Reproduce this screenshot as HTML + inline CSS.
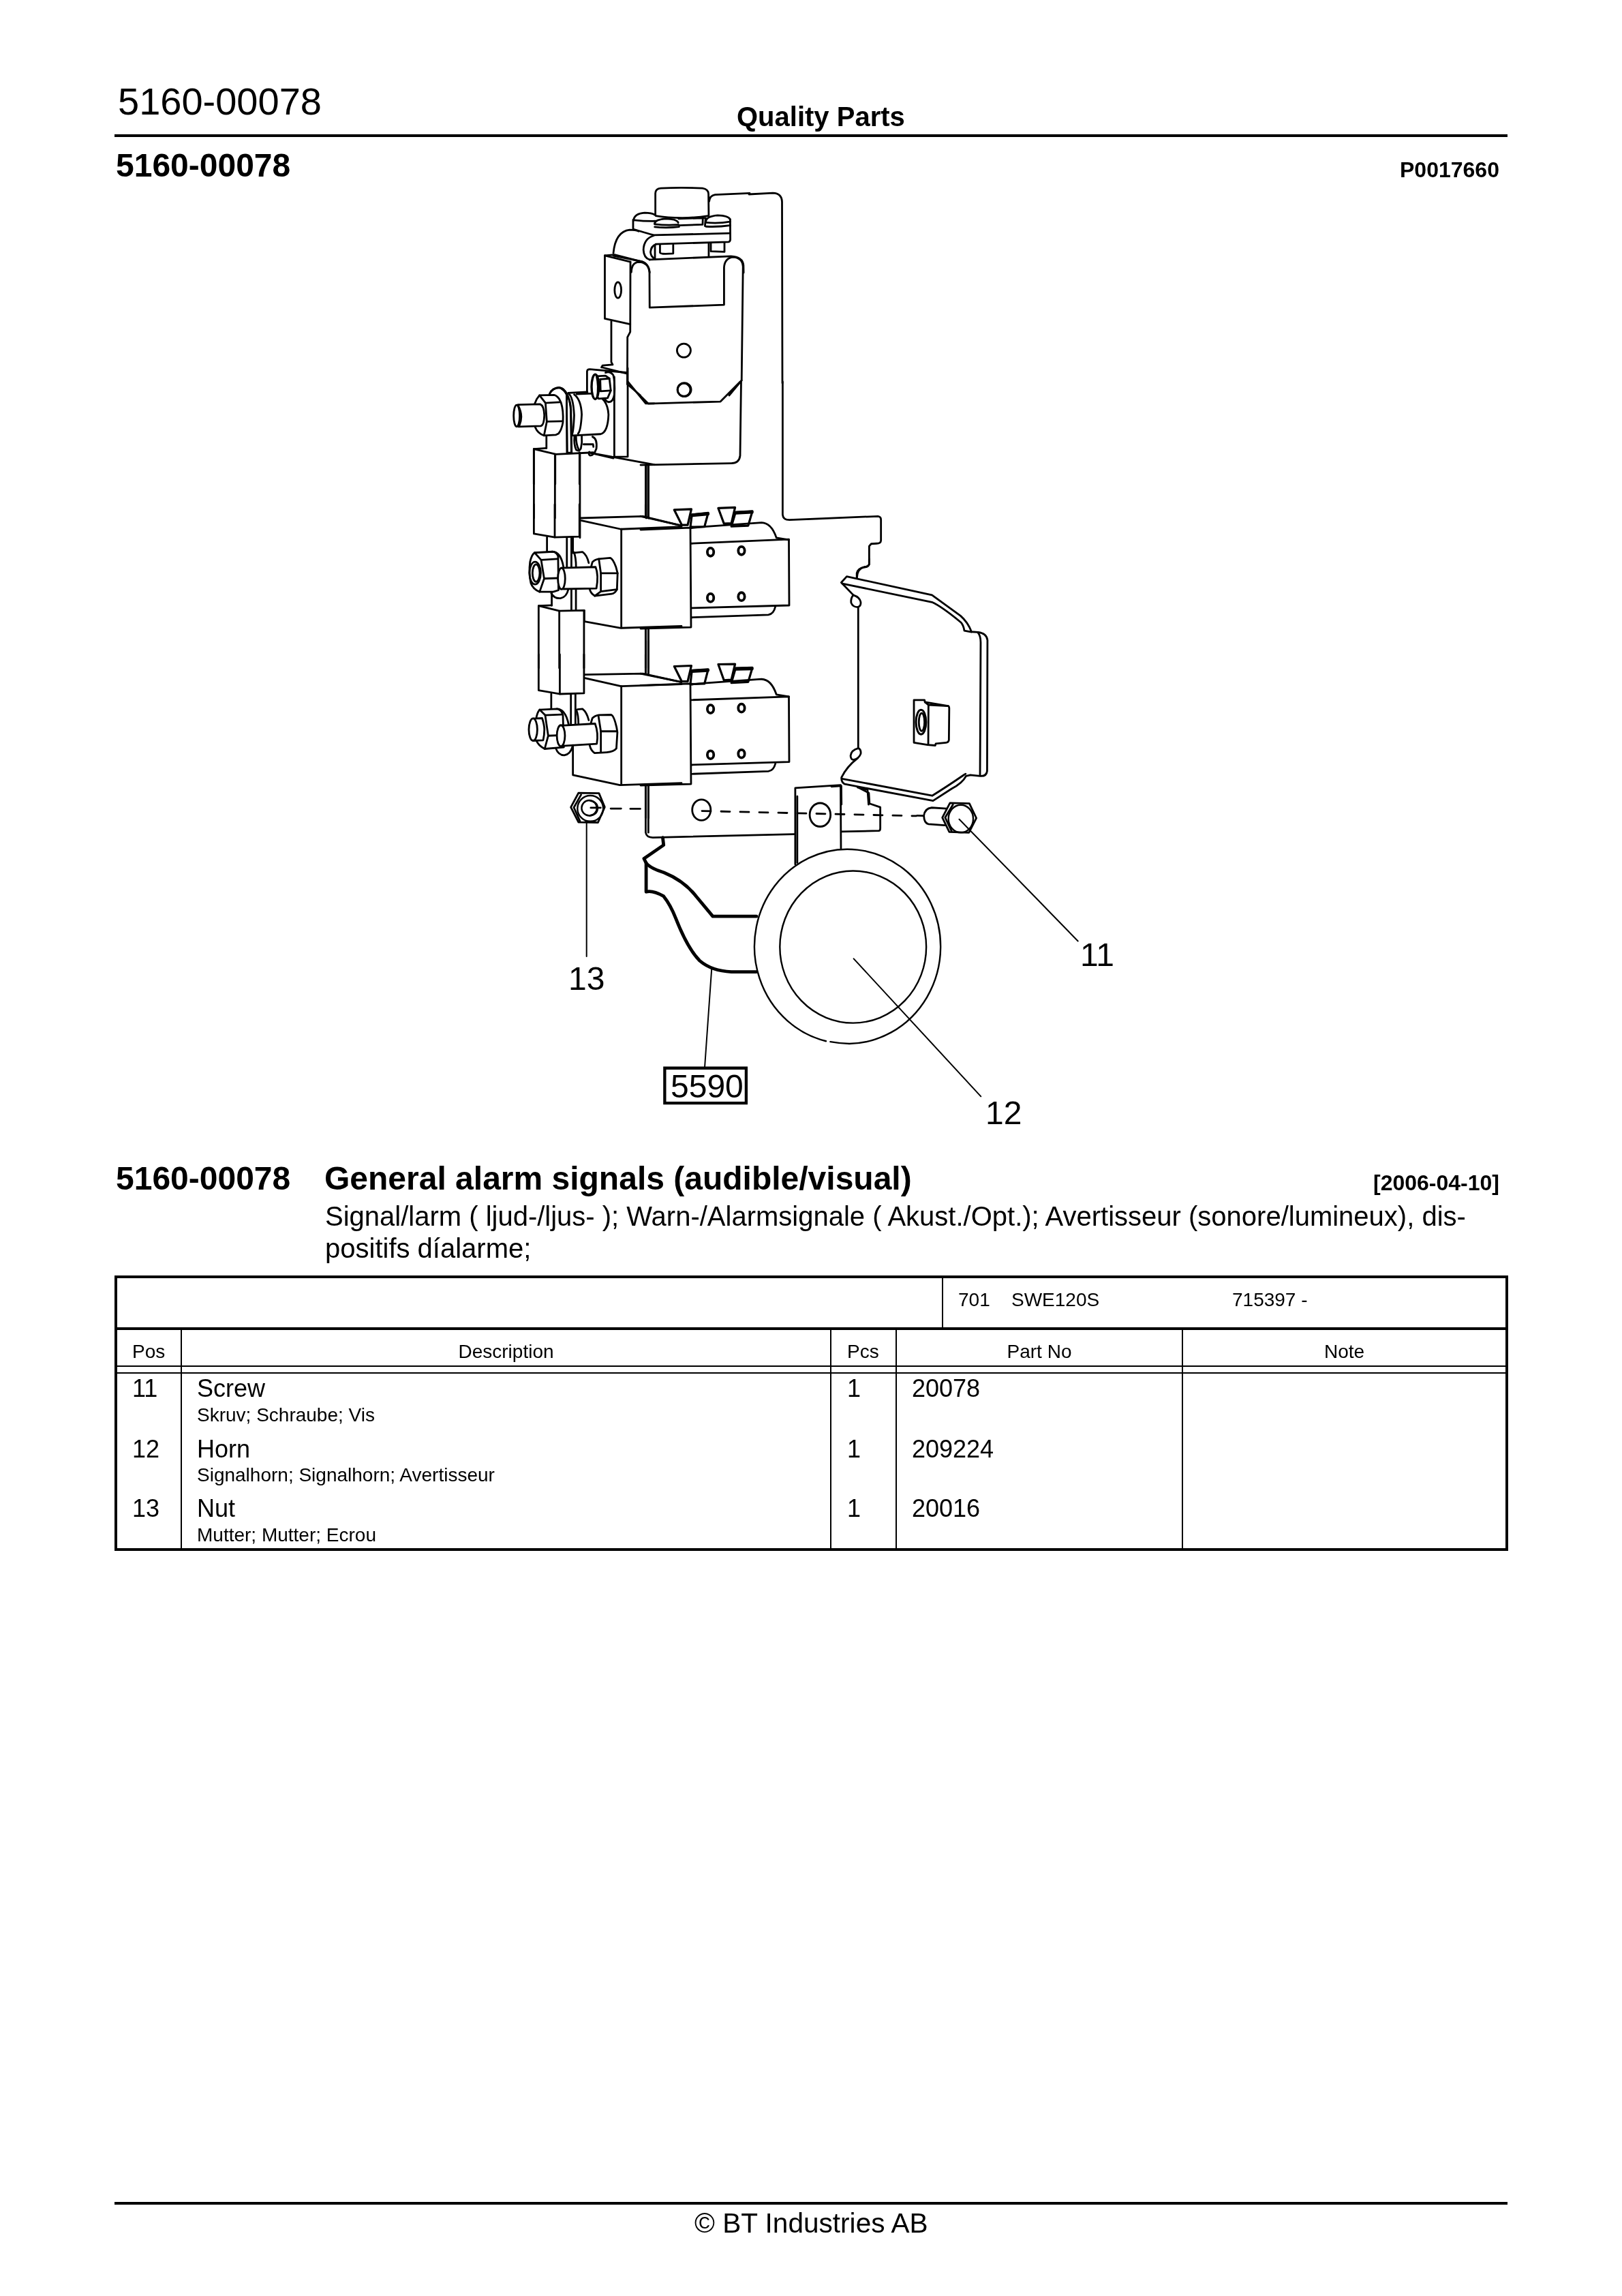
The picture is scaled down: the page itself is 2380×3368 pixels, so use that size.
<!DOCTYPE html>
<html><head><meta charset="utf-8">
<style>
html,body{margin:0;padding:0;background:#fff;}
body{width:2380px;height:3368px;position:relative;overflow:hidden;font-family:"Liberation Sans",sans-serif;color:#000;}
.t{position:absolute;white-space:nowrap;line-height:1;-webkit-font-smoothing:antialiased;will-change:transform;}
.b{font-weight:bold;}
.ln{position:absolute;background:#000;}
svg{position:absolute;left:0;top:0;}
</style></head><body>
<div class="t" style="left:173px;top:121px;font-size:56px;">5160-00078</div>
<div class="t b" style="left:1081px;top:151px;font-size:40px;">Quality Parts</div>
<div class="ln" style="left:168px;top:197px;width:2044px;height:4px;"></div>
<div class="t b" style="left:170px;top:219px;font-size:48px;">5160-00078</div>
<div class="t b" style="right:180px;top:233px;font-size:32px;">P0017660</div>

<div class="t b" style="left:170px;top:1705px;font-size:48px;">5160-00078</div>
<div class="t b" style="left:476px;top:1705px;font-size:48px;">General alarm signals (audible/visual)</div>
<div class="t b" style="right:180px;top:1719px;font-size:32px;">[2006-04-10]</div>
<div class="t" style="left:477px;top:1764px;font-size:40px;">Signal/larm ( ljud-/ljus- ); Warn-/Alarmsignale ( Akust./Opt.); Avertisseur (sonore/lumineux), dis-</div>
<div class="t" style="left:477px;top:1811px;font-size:40px;">positifs díalarme;</div>

<!-- table lines -->
<div class="ln" style="left:168px;top:1871px;width:2045px;height:4px;"></div>
<div class="ln" style="left:168px;top:2271px;width:2045px;height:4px;"></div>
<div class="ln" style="left:168px;top:1871px;width:4px;height:404px;"></div>
<div class="ln" style="left:2209px;top:1871px;width:4px;height:404px;"></div>
<div class="ln" style="left:168px;top:1947px;width:2045px;height:4px;"></div>
<div class="ln" style="left:1382px;top:1875px;width:2px;height:72px;"></div>
<div class="ln" style="left:168px;top:2003px;width:2045px;height:2px;"></div>
<div class="ln" style="left:168px;top:2013px;width:2045px;height:2px;"></div>
<div class="ln" style="left:265px;top:1951px;width:2px;height:320px;"></div>
<div class="ln" style="left:1218px;top:1951px;width:2px;height:320px;"></div>
<div class="ln" style="left:1314px;top:1951px;width:2px;height:320px;"></div>
<div class="ln" style="left:1734px;top:1951px;width:2px;height:320px;"></div>

<div class="t" style="left:1406px;top:1893px;font-size:28px;">701</div>
<div class="t" style="left:1484px;top:1893px;font-size:28px;">SWE120S</div>
<div class="t" style="left:1808px;top:1893px;font-size:28px;">715397 -</div>

<div class="t" style="left:194px;top:1969px;font-size:28px;">Pos</div>
<div class="t" style="left:267px;width:951px;text-align:center;top:1969px;font-size:28px;">Description</div>
<div class="t" style="left:1243px;top:1969px;font-size:28px;">Pcs</div>
<div class="t" style="left:1316px;width:418px;text-align:center;top:1969px;font-size:28px;">Part No</div>
<div class="t" style="left:1736px;width:473px;text-align:center;top:1969px;font-size:28px;">Note</div>

<div class="t" style="left:194px;top:2019px;font-size:36px;">11</div>
<div class="t" style="left:289px;top:2019px;font-size:36px;">Screw</div>
<div class="t" style="left:289px;top:2062px;font-size:28px;">Skruv; Schraube; Vis</div>
<div class="t" style="left:1243px;top:2019px;font-size:36px;">1</div>
<div class="t" style="left:1338px;top:2019px;font-size:36px;">20078</div>

<div class="t" style="left:194px;top:2108px;font-size:36px;">12</div>
<div class="t" style="left:289px;top:2108px;font-size:36px;">Horn</div>
<div class="t" style="left:289px;top:2150px;font-size:28px;">Signalhorn; Signalhorn; Avertisseur</div>
<div class="t" style="left:1243px;top:2108px;font-size:36px;">1</div>
<div class="t" style="left:1338px;top:2108px;font-size:36px;">209224</div>

<div class="t" style="left:194px;top:2195px;font-size:36px;">13</div>
<div class="t" style="left:289px;top:2195px;font-size:36px;">Nut</div>
<div class="t" style="left:289px;top:2238px;font-size:28px;">Mutter; Mutter; Ecrou</div>
<div class="t" style="left:1243px;top:2195px;font-size:36px;">1</div>
<div class="t" style="left:1338px;top:2195px;font-size:36px;">20016</div>

<div class="ln" style="left:168px;top:3230px;width:2044px;height:4px;"></div>
<div class="t" style="left:1019px;top:3241px;font-size:40.6px;">© BT Industries AB</div>

<div class="t" style="left:834px;top:1412px;font-size:48px;">13</div>
<div class="t" style="left:1585px;top:1377px;font-size:48px;">11</div>
<div class="t" style="left:1446px;top:1609px;font-size:48px;">12</div>
<div class="t" style="left:984px;top:1570px;font-size:48px;">5590</div>
<svg width="2380" height="3368" viewBox="0 0 2380 3368" fill="none" stroke="#000" stroke-width="2.8" stroke-linejoin="round" stroke-linecap="round">
<style>svg *{vector-effect:non-scaling-stroke;}</style>
<!-- 01_top.svg -->
<g transform="translate(900,270) scale(0.123305)">
<!-- knob -->
<path d="M500,372 L500,110 Q502,55 565,50 Q800,38 1060,50 Q1130,60 1132,118 L1135,378"/>
<path d="M505,378 Q640,402 820,402 Q1000,400 1128,378"/>
<!-- back plate top -->
<path d="M1140,205 Q1148,135 1210,126 L1622,108"/>
<!-- left nut -->
<path d="M240,432 Q248,352 372,342 Q455,342 492,365"/>
<path d="M245,428 Q370,442 500,440"/>
<!-- middle nut -->
<path d="M490,472 Q498,420 622,413 Q752,416 772,458"/>
<path d="M492,478 Q630,494 775,484"/>
<path d="M492,510 Q630,526 782,508"/>
<!-- hex band under knob -->
<path d="M775,412 L1065,404 L1062,482 L782,492"/>
<path d="M1065,404 L1098,404 L1090,500"/>
<!-- right nut -->
<path d="M1100,445 Q1110,382 1240,372 Q1372,376 1388,420"/>
<path d="M1102,458 Q1250,472 1390,448"/>
<path d="M1102,505 Q1250,512 1390,492"/>
<!-- plate -->
<path d="M235,425 L235,535 Q300,556 482,608 L1385,585"/>
<path d="M1390,418 L1392,660 Q1390,685 1370,688 L505,715"/>
<path d="M482,612 Q362,650 358,782 Q362,880 432,900"/>
<path d="M505,717 Q448,738 442,810 Q448,872 500,892"/>
<path d="M495,728 L495,890"/>
<path d="M432,900 L1400,858 Q1540,866 1548,965 L1550,1054"/>
<path d="M0,822 Q25,565 195,545 Q262,545 300,562"/>
<path d="M0,852 L340,922 Q420,945 432,1054"/>
<!-- pins -->
<path d="M555,725 L555,815 Q560,830 620,830 L712,826 L712,722"/>
<path d="M1160,700 L1160,800 L1322,806 L1322,700"/>
<path d="M1135,700 L1135,862"/>
</g>

<!-- 02_sw1.svg -->
<g transform="translate(880,360) scale(0.135630)">
<!-- left flap -->
<path d="M55,110 L55,792 L330,852"/>
<path d="M55,110 L332,178"/>
<path d="M55,110 L160,100 L462,178"/>
<ellipse cx="197" cy="483" rx="36" ry="86"/>
<!-- body left edge -->
<path d="M332,178 L330,935 L300,992 L298,1500"/>
<path d="M342,290 Q345,182 425,180 Q525,186 538,282 L540,672 L1345,642 L1345,240 Q1350,140 1440,126 Q1545,132 1550,230 L1535,1460"/>
<!-- strip below flap -->
<path d="M125,820 L125,1262 L140,1290 L30,1298 L20,1318"/>
<path d="M20,1318 L290,1385"/>
<!-- holes -->
<circle cx="910" cy="1136" r="74"/>
<circle cx="915" cy="1560" r="74"/>
<!-- chamfers -->
<path d="M298,1500 L440,1622"/>
<path d="M1535,1460 L1400,1622"/>
</g>

<!-- 03_bolt.svg -->
<g transform="translate(740,540) scale(0.135630)">
<!-- bracket plate behind -->
<path d="M895,270 L895,35 Q897,12 925,12 L1320,48"/>
<path d="M1190,95 L1190,960 L1335,958 L1335,0"/>
<path d="M1340,150 L1530,382 L1622,382"/>
<path d="M975,925 L1622,1045"/>
<path d="M320,875 L320,1622"/>
<path d="M548,935 L548,1622"/>
<path d="M818,920 L818,1622"/>
<path d="M1535,1045 L1535,1622"/>
<path d="M1560,1045 L1560,1622"/>
</g>

<!-- 03b_bolt.svg -->
<g transform="translate(750,560) scale(0.092481)">
<!-- washer -->
<path fill="#fff" d="M610,192 Q650,100 760,92 Q850,105 880,200 L888,1125 L960,1125 L950,450 Q935,200 800,108"/>
<path d="M610,192 Q650,100 760,92 Q850,105 880,200 L888,1125"/>
<path d="M800,108 Q932,200 946,450 L956,1125"/>
<!-- cylinder -->
<path d="M905,178 L1210,162"/>
<path d="M1040,196 L1300,186 Q1530,250 1545,520 Q1535,800 1420,830 L980,852"/>
<path d="M905,182 Q985,232 1000,530 Q990,792 962,852"/>
<path d="M1000,202 Q1110,282 1120,520 Q1105,782 1062,822"/>
<!-- clip -->
<path d="M1005,862 Q992,1000 1032,1080 Q1082,1112 1106,1060 Q1130,960 1120,862"/>
<path d="M1030,870 Q1030,990 1070,1070"/>
<path d="M1150,992 L1300,992 L1306,1032"/>
<path d="M1290,872 Q1372,905 1352,1062 Q1312,1172 1252,1170 Q1222,1150 1240,1112"/>
<!-- stem + block top -->
<path d="M560,855 L560,1052"/>
<path d="M360,1622 L360,1066 L560,1052"/>
<path d="M360,1066 L712,1150 L1300,1122"/>
<path d="M1260,1130 L1622,1212"/>
<path d="M700,1150 L700,1622"/>
<path d="M1085,1122 L1085,1622"/>
<!-- nut -->
<path fill="#fff" d="M450,215 L680,210 Q722,218 762,272 L792,332 Q832,452 822,642 Q802,762 752,822 L712,842 L522,852 Q422,822 382,722 L376,345 Q400,270 450,215 Z"/>
<path d="M450,215 L545,337 L782,322"/>
<path d="M545,337 L566,632 L522,852"/>
<path d="M566,632 L806,626"/>
<!-- stud -->
<path fill="#fff" d="M110,365 L460,355 Q522,380 527,530 Q522,692 470,702 L115,712 Z"/>
<ellipse fill="#fff" cx="88" cy="540" rx="48" ry="172"/>
<path d="M112,380 Q200,540 128,702"/>
</g>

<!-- 03c_smallbolt.svg -->
<g transform="translate(860,500) scale(0.086312)">
<!-- loop -->
<path d="M330,540 Q405,508 462,582 Q492,700 482,900 Q462,1040 382,1040 Q332,1030 322,980"/>
<!-- hex head -->
<path fill="#fff" d="M185,600 L330,592 L396,640 L420,845 L366,972 L215,984 L150,900 L140,700 Z"/>
<path d="M240,652 L396,640"/>
<path d="M240,652 L246,856 L420,845"/>
<!-- washer ring -->
<ellipse fill="#fff" cx="155" cy="780" rx="62" ry="210" stroke-width="3.4"/>
<path d="M175,585 Q222,780 185,975"/>
</g>

<!-- 04_mid.svg -->
<g transform="translate(940,560) scale(0.246609)">
<!-- upper switch lower part -->
<path d="M0,85 L45,130 L475,118 L592,0"/>
<path d="M598,0 L592,440 Q586,485 540,485 L0,495"/>
<circle cx="258" cy="48" r="38"/>
<!-- back plate -->
<path d="M845,0 L845,790 Q848,822 885,822 L1412,800 Q1430,802 1430,820 L1430,945 Q1428,962 1405,962 L1372,964 L1360,978 L1360,1085 Q1356,1100 1330,1102 Q1290,1112 1287,1165"/>
<!-- mounting plate double line -->
<path d="M30,495 L30,800"/>
<path d="M46,495 L46,800"/>
<path d="M30,1462 L30,1622"/>
<path d="M46,1462 L46,1622"/>
<!-- relay 1 front box -->
<path d="M0,880 L296,868 L300,1460 L0,1468"/>
<path d="M0,800 L240,855"/>
<!-- relay side box -->
<path d="M302,962 L882,937 L884,1330 L302,1346"/>
<path d="M302,870 L378,862 L720,838 Q778,840 808,928 L882,940"/>
<path d="M302,1402 L760,1386 Q792,1382 802,1336"/>
<!-- tabs --><g stroke-width="3.2">
<path d="M200,762 L302,758 L280,852 L245,852 Z"/>
<path d="M305,790 L402,780 L380,862 L296,864 Z"/>
<path d="M462,752 L562,748 L540,842 L496,844 Z"/>
<path d="M565,776 L665,770 L640,856 L540,860 Z"/>
<path stroke-width="5" d="M308,794 L400,786"/><path stroke-width="5" d="M568,780 L662,775"/>
</g><!-- holes -->
<g stroke-width="3.8"><ellipse cx="416" cy="1013" rx="19" ry="24"/><ellipse cx="600" cy="1005" rx="19" ry="24"/><ellipse cx="416" cy="1285" rx="19" ry="24"/><ellipse cx="600" cy="1278" rx="19" ry="24"/></g>
</g>

<!-- 05_nuts1.svg -->
<g transform="translate(760,740) scale(0.147973)">
<!-- upper resistor bottom -->
<path d="M158,0 L158,290 L365,325 L610,318 L610,0"/>
<path d="M365,0 L365,325"/>
<!-- rods -->
<path d="M288,325 L288,470"/>
<path d="M485,330 L485,622"/>
<path d="M530,330 L530,622"/>
<path d="M545,330 L545,470"/>
<path d="M335,870 L335,1002"/>
<path d="M530,842 L530,1040"/>
<path d="M575,842 L575,1040"/>
<!-- washer behind left nut -->
<path d="M338,468 Q428,468 452,625"/>
<path d="M330,880 Q360,935 422,930 Q482,920 500,840"/>
<!-- right sleeve -->
<path d="M545,480 L640,470 Q685,500 702,580"/>
<path d="M556,475 Q576,530 576,620"/>
<!-- left nut -->
<path fill="#fff" d="M165,478 L345,468 Q385,472 398,515 L402,850 L350,866 L215,866 Q150,840 128,780 Q105,680 120,570 Q135,500 165,478 Z"/>
<ellipse cx="170" cy="680" rx="56" ry="112"/>
<ellipse cx="180" cy="680" rx="36" ry="86"/>
<path d="M165,478 L230,550 L388,540"/>
<path d="M230,550 L260,735 L215,866"/>
<path d="M260,735 L398,730"/>
<!-- right nut -->
<path fill="#fff" d="M738,572 Q762,546 802,540 L915,530 Q942,538 972,620 L988,682 L982,842 Q962,882 930,886 L762,906 Q722,882 712,842 L705,700 Z"/>
<path d="M802,540 L822,682 L988,682"/>
<path d="M822,682 L822,862 L762,906"/>
<path d="M822,862 L982,842"/>
<!-- bolt shaft -->
<path fill="#fff" d="M430,630 L770,620 Q802,700 778,832 L452,838 Z"/>
<ellipse fill="#fff" cx="432" cy="735" rx="36" ry="106"/>
<!-- relay 2 -->
<path d="M615,135 L1240,118 L1622,210"/>
<path d="M630,160 L1022,245 L1622,220"/>
<path d="M1025,245 L1025,1222"/>
<path d="M660,1160 L1022,1225 L1622,1205"/>
<path d="M658,1050 L658,1160"/>
<path d="M615,135 L615,330"/>
<!-- lower resistor top -->
<path d="M205,1622 L205,1005 L335,1000"/>
<path d="M205,1005 L410,1055 L655,1050 L655,1622"/>
<path d="M410,1055 L410,1622"/>
<!-- mounting plate -->
<path d="M1266,0 L1266,122"/>
<path d="M1293,0 L1293,125"/>
<path d="M1266,1228 L1266,1622"/>
<path d="M1293,1228 L1293,1622"/>
</g>

<!-- 06_nuts2.svg -->
<g transform="translate(760,960) scale(0.147973)">
<!-- lower resistor bottom -->
<path d="M205,0 L205,355 L420,392 L655,385 L655,0"/>
<path d="M415,0 L415,392"/>
<!-- rods -->
<path d="M330,392 L330,542"/>
<path d="M525,400 L525,692"/>
<path d="M570,400 L570,692"/>
<!-- washer behind left nut -->
<path d="M385,540 Q470,540 502,692"/>
<path d="M375,930 Q400,1000 460,1000 Q520,990 542,910"/>
<!-- right sleeve -->
<path d="M590,545 L640,540 Q682,572 702,652"/>
<path d="M578,548 Q600,600 600,692"/>
<!-- left nut -->
<path fill="#fff" d="M215,548 L390,540 Q432,548 446,602 L455,920 L265,936 Q200,902 182,852 Q165,740 180,640 Q190,575 215,548 Z"/>
<path d="M215,548 L270,602 L432,596"/>
<path d="M270,602 L300,806 L265,936"/>
<path d="M300,806 L448,800"/>
<!-- stud -->
<path fill="#fff" d="M150,636 L240,632 Q262,700 262,745 Q262,800 250,850 L150,855 Z"/>
<ellipse fill="#fff" cx="150" cy="745" rx="42" ry="110"/>
<!-- right nut -->
<path fill="#fff" d="M738,632 Q762,606 802,600 L925,598 Q952,608 978,722 L986,772 L976,932 Q950,966 880,970 L762,978 Q722,952 712,902 L705,742 Z"/>
<path d="M798,610 L822,762 L984,762"/>
<path d="M822,762 L822,962"/>
<!-- bolt shaft -->
<path fill="#fff" d="M430,706 L765,686 Q800,780 782,886 L450,906 Z"/>
<ellipse fill="#fff" cx="426" cy="806" rx="40" ry="105"/>
<!-- relay 3 -->
<path d="M658,200 L1240,190 L1622,275"/>
<path d="M670,235 L1022,315 L1622,295"/>
<path d="M1025,315 L1025,1292"/>
<path d="M545,900 L545,1195 L1010,1295 L1622,1275"/>
<!-- mounting plate -->
<path d="M1266,0 L1266,192"/>
<path d="M1293,0 L1293,195"/>
<path d="M1266,1298 L1266,1622"/>
<path d="M1293,1298 L1293,1622"/>
</g>

<!-- 07_relay3.svg -->
<g transform="translate(940,940) scale(0.246609)">
<path d="M30,0 L30,195"/>
<path d="M46,0 L46,195"/>
<!-- relay 3 front box -->
<path d="M0,265 L296,255 L300,852 L0,860"/>
<path d="M0,195 L240,245"/>
<!-- relay 3 side box -->
<path d="M302,352 L882,332 L884,720 L302,738"/>
<path d="M302,260 L378,252 L720,228 Q778,230 808,320 L882,332"/>
<path d="M302,792 L760,776 Q792,772 802,730"/>
<g stroke-width="3.2">
<path d="M200,152 L302,148 L280,242 L245,242 Z"/>
<path d="M305,176 L402,170 L380,255 L296,258 Z"/>
<path d="M462,140 L562,138 L540,232 L496,235 Z"/>
<path d="M565,163 L665,160 L640,245 L540,250 Z"/>
<path stroke-width="5" d="M308,180 L400,175"/><path stroke-width="5" d="M568,167 L662,165"/>
</g>
<g stroke-width="3.8"><ellipse cx="416" cy="406" rx="19" ry="24"/><ellipse cx="600" cy="400" rx="19" ry="24"/><ellipse cx="416" cy="678" rx="19" ry="24"/><ellipse cx="600" cy="672" rx="19" ry="24"/></g>
<!-- mounting plate lower part -->
<path d="M30,860 L30,1140 Q35,1170 72,1170 L918,1150"/>
<path d="M46,860 L46,1140"/>
<ellipse cx="362" cy="1006" rx="55" ry="62"/>
<!-- strap -->
<path d="M920,1330 L920,875 L1190,858 L1192,1235"/>
<path d="M932,925 L932,1320"/>
<ellipse cx="1068" cy="1035" rx="62" ry="70"/>
<!-- notch plate -->
<path d="M1195,1135 L1418,1130 Q1426,1128 1426,1115 L1426,990 L1362,968 L1358,905 L1300,875"/>
<!-- dashed line -->
<path stroke-dasharray="13 15" d="M365,1012 L1640,1042"/>
</g>

<!-- 08_plate.svg -->
<g transform="translate(1220,820) scale(0.160308)">
<!-- outer outline -->
<path d="M240,1822 Q140,1900 92,1998 Q88,2042 122,2060 L930,2212 L1100,2102 Q1200,2050 1232,1986 L1272,1976 L1362,1986 Q1420,1990 1425,1940 L1428,742 Q1420,680 1342,670 L1282,666 Q1250,580 1182,520 L920,330 L140,160 L90,215 L200,330"/>
<!-- inner edges -->
<path d="M100,225 L920,395 Q1005,432 1185,580 Q1210,610 1216,656 L1282,668"/>
<path d="M1342,676 Q1365,700 1366,762 L1360,1978"/>
<path d="M105,2012 L922,2166 Q1052,2086 1212,1976 L1228,1966"/>
<!-- left side with ovals -->
<path d="M200,330 Q175,360 180,400 Q195,440 240,440 Q272,430 268,395 Q260,350 200,330 Z"/>
<path d="M245,440 L245,1732"/>
<path d="M245,1732 Q180,1750 175,1800 Q180,1860 240,1822 Q275,1790 268,1760 Q262,1735 245,1732 Z"/>
<!-- square nut -->
<path d="M755,1290 L852,1290 L856,1310 L1068,1345 Q1078,1350 1078,1368 L1075,1658 Q1070,1680 1050,1680 L955,1690 L950,1706 L880,1700 L755,1680 Z"/>
<path d="M856,1310 L888,1336 L1068,1345"/>
<path d="M888,1336 L886,1700"/>
<ellipse cx="820" cy="1492" rx="46" ry="112" stroke-width="3"/>
<ellipse cx="826" cy="1492" rx="26" ry="82"/>
<!-- back plate notch above -->
<path d="M345,0 L345,50 Q335,75 300,75 Q240,85 232,130 L232,175"/>
<!-- below -->
<path d="M0,2082 L90,2076 L92,2246"/>
<path d="M240,2090 L330,2110 L340,2246"/>
</g>

<!-- 09_horn.svg -->
<g transform="translate(900,1180) scale(0.320616)">
<!-- horn outer (with small gap at bottom) -->
<path stroke-width="2.4" d="M993,1086 Q1038,1094 1080,1095 A426,445 0 1 0 973,1083"/>
<ellipse stroke-width="2.4" cx="1097" cy="652" rx="335" ry="348"/>
<!-- cable -->
<g stroke-width="4.8">
<path d="M226,152 L230,186 L140,248 L150,268 L150,400 Q180,392 230,420 Q262,460 285,520 Q340,660 395,715 Q450,762 540,766 L655,766"/>
<path d="M150,268 Q168,292 232,312 Q325,350 380,422 L455,512 L655,512"/>
</g>
<!-- leaders -->

<path d="M1100,706 L1682,1336" stroke-width="2"/>
</g>

<!-- 10_bolt11.svg -->
<g transform="translate(1340,1160) scale(0.067820)">
<path d="M720,385 L400,365 Q250,380 230,540 Q235,700 330,720 L680,745"/>
<path d="M85,536 L215,540"/>
<path fill="#fff" d="M795,265 L1215,275 L1365,590 L1205,905 L780,890 L630,580 Z"/>
<path d="M860,300 L690,578 L830,872"/>
<ellipse cx="1030" cy="605" rx="268" ry="300" stroke-width="2.4"/>
</g>
<g transform="translate(1340,1150) scale(0.197287)">
<path d="M342,262 L1225,1168" stroke-width="2"/>
</g>

<!-- 11_nut13.svg -->
<g transform="translate(830,1150) scale(0.080147)">
<path d="M235,165 L610,170 L715,422 L592,705 L235,700 L95,425 Z"/>
<path d="M282,198 L150,430 L262,682"/>
<circle cx="452" cy="448" r="236" stroke-width="2.4"/>
<circle cx="432" cy="440" r="140" stroke-width="2.4"/>
<path d="M440,302 Q588,330 586,445 Q582,562 440,582" stroke-width="2.4"/>
<path d="M460,436 L640,436"/>
<path d="M825,450 L1015,450"/>
<path d="M1185,455 L1365,455"/>
</g>
<g transform="translate(780,1150) scale(0.213493)">
<path d="M378,270 L378,1185" stroke-width="2"/>
<path d="M1238,1265 L1190,1945" stroke-width="2"/>
<rect x="915" y="1952" width="560" height="241" stroke-width="4.3" stroke-linejoin="miter"/>
</g>

<!-- 12_backplate.svg -->
<path d="M1099,285 L1134,283.2 Q1147,283.6 1147.5,296 L1148,562"/>

</svg>
</body></html>
